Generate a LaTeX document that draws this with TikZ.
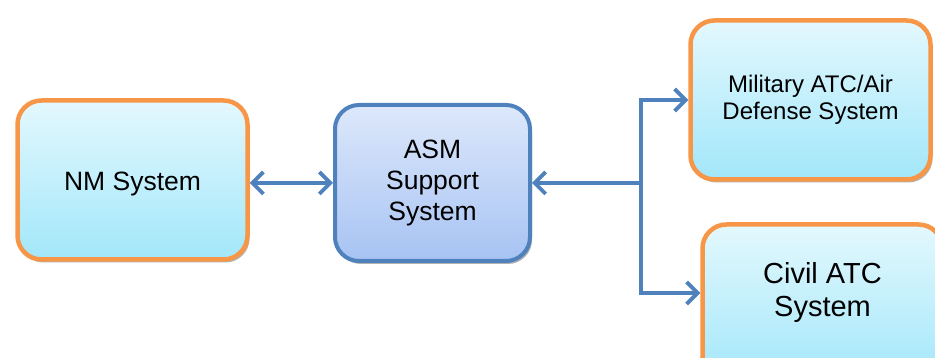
\documentclass[tikz,border=0pt]{standalone}
\usepackage{fontspec}
\setmainfont{Liberation Sans}
\usetikzlibrary{arrows.meta,shadows}
\definecolor{sysorange}{HTML}{F79646}
\definecolor{sysblue}{HTML}{4F81BD}
\definecolor{cyantop}{HTML}{E3F8FD}
\definecolor{cyanbot}{HTML}{A2E7FA}
\definecolor{bluetop}{HTML}{DDE8FB}
\definecolor{bluebot}{HTML}{A7C3F3}
\tikzset{
  sysbox/.style={draw=sysorange, line width=4.5pt, rounded corners=24pt,
    top color=cyantop, bottom color=cyanbot, align=center,
    drop shadow={shadow xshift=2pt, shadow yshift=-3pt, opacity=0.3, fill=black}},
  hubbox/.style={draw=sysblue, line width=4pt, rounded corners=24pt,
    top color=bluetop, bottom color=bluebot, align=center,
    drop shadow={shadow xshift=2pt, shadow yshift=-3pt, opacity=0.3, fill=black}},
  link/.style={draw=sysblue, line width=3.8pt,
    arrows={-Straight Barb[length=11pt,width=22pt]}},
  twolink/.style={draw=sysblue, line width=3.8pt,
    arrows={Straight Barb[length=11pt,width=22pt]-Straight Barb[length=11pt,width=22pt]}},
}
\begin{document}
\begin{tikzpicture}[x=1pt,y=1pt]
  \useasboundingbox (0,0) rectangle (935,358);
  \clip (0,0) rectangle (935,358);
  % left-hand system
  \node[sysbox, minimum width=230pt, minimum height=159pt] (nm) at (132.5,178) {};
  \node[font=\fontsize{26.5}{31}\selectfont] (nmtxt) at (132.5,174) {NM System};
  % central support system
  \node[hubbox, minimum width=195pt, minimum height=156pt,
        font=\fontsize{26.5}{31}\selectfont] (asm) at (432.5,175)
        {ASM\\Support\\System};
  % right-hand systems
  \node[sysbox, minimum width=240pt, minimum height=159pt,
        font=\fontsize{24}{27}\selectfont] (mil) at (810.5,258)
        {Military ATC/Air\\Defense System};
  \node[sysbox, minimum width=240pt, minimum height=159pt] (civ) at (822.5,54) {};
  \node[align=center, font=\fontsize{29}{33}\selectfont] (civtxt) at (822.5,65)
        {Civil ATC\\System};
  % connectors
  \coordinate (j) at (641,175);
  \draw[twolink] (asm.west -| nm.east) -- (asm.west);
  \draw[link] (j) -- (asm.east);
  \draw[link, rounded corners=0pt] (j) |- (mil.west);
  \draw[link, rounded corners=0pt] (j) |- (civ.west |- civtxt);
\end{tikzpicture}
\end{document}
